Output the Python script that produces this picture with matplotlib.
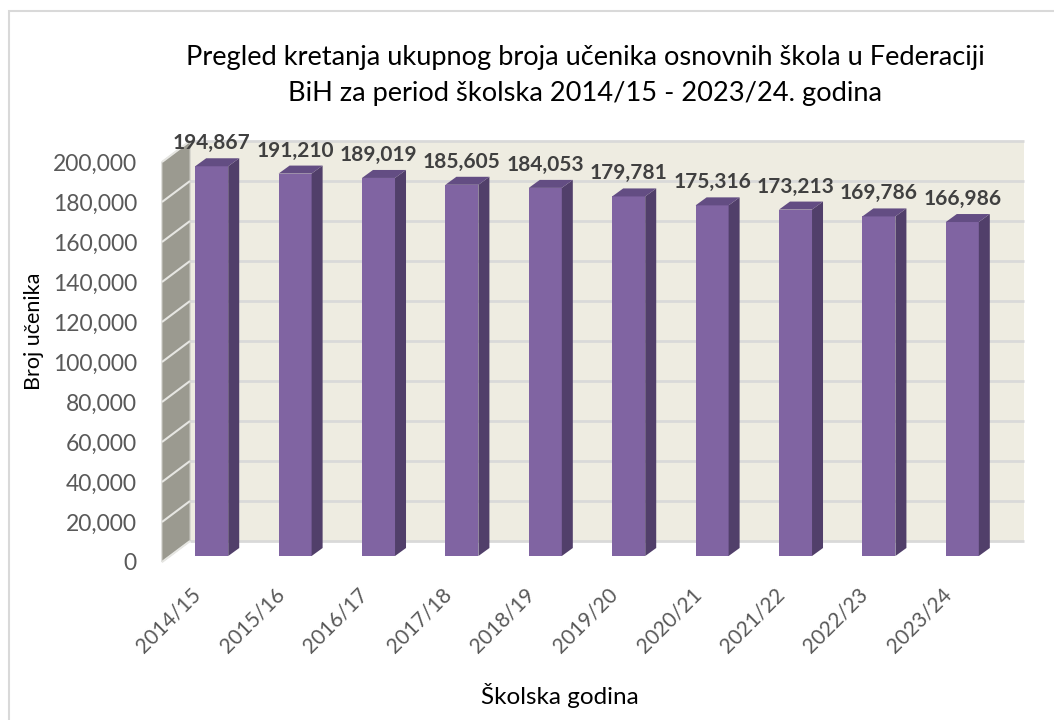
import matplotlib
matplotlib.use("Agg")
import matplotlib.pyplot as plt
from matplotlib.patches import Polygon, Rectangle
from matplotlib.transforms import ScaledTranslation

plt.rcParams['font.family'] = ['Lato', 'DejaVu Sans']

# data
godine = ['2014/15', '2015/16', '2016/17', '2017/18', '2018/19',
          '2019/20', '2020/21', '2021/22', '2022/23', '2023/24']
ucenici = [194867, 191210, 189019, 185605, 184053,
           179781, 175316, 173213, 169786, 166986]
y_ticks = list(range(0, 200001, 20000))

naslov = ('Pregled kretanja ukupnog broja učenika osnovnih škola u Federaciji\n'
          'BiH za period školska 2014/15 - 2023/24. godina')

DPI = 100
W, H = 1054, 720

front = '#8064A2'
side = '#513F6A'
top = '#634D83'
wall = '#EEECE1'
lwall = '#9B9A90'
grid = '#D9D9D9'
txt = '#595959'

fig = plt.figure(figsize=(W / DPI, H / DPI), dpi=DPI)
ax = fig.add_axes([162 / W, (H - 562) / H, 834 / W, 400 / H])
ax.set_xlim(-0.5, len(godine) - 0.5)
ax.set_ylim(0, 200000)
ax.patch.set_visible(False)
for s in ax.spines.values():
    s.set_visible(False)

# pixel -> data conversion
px_x = (ax.get_xlim()[1] - ax.get_xlim()[0]) / (834)
px_y = (ax.get_ylim()[1] - ax.get_ylim()[0]) / (400)


def off(dx, dy):
    return ax.transData + ScaledTranslation(dx / DPI, dy / DPI, fig.dpi_scale_trans)


# depth of back wall
wdx, wdy = 28, 21
x0, x1 = ax.get_xlim()
ymax = ax.get_ylim()[1]

ax.add_patch(Rectangle((x0, 0), x1 - x0, ymax, transform=off(wdx, wdy),
                       facecolor=wall, edgecolor='none', zorder=0, clip_on=False))
ax.hlines(y_ticks, x0, x1, transform=off(wdx, wdy), color=grid, lw=2,
          zorder=1, clip_on=False)

# left wall
ax.add_patch(Polygon([(x0, 0), (x0, ymax), (x0 + wdx * px_x, ymax + wdy * px_y),
                      (x0 + wdx * px_x, wdy * px_y)],
                     closed=True, facecolor=lwall, edgecolor='#C8C8C2', lw=0.8,
                     zorder=1, clip_on=False))
for t in y_ticks:
    ax.plot([x0, x0 + wdx * px_x], [t, t + wdy * px_y], color='#E6E6E2', lw=1.5,
            zorder=2, clip_on=False, solid_capstyle='butt')

# bars (placed a bit behind the front plane)
bdx, bdy = 8, 6
ddx, ddy = 11, 8
bw = 0.396
xs = list(range(len(godine)))
ax.bar(xs, ucenici, width=bw, color=front, transform=off(bdx, bdy), zorder=3,
       clip_on=False)
for x, v in zip(xs, ucenici):
    xr = x + bw / 2
    xl = x - bw / 2
    ax.add_patch(Polygon([(xr, 0), (xr, v), (xr + ddx * px_x, v + ddy * px_y),
                          (xr + ddx * px_x, ddy * px_y)],
                         closed=True, facecolor=side, edgecolor='none',
                         transform=off(bdx, bdy), zorder=3, clip_on=False))
    ax.add_patch(Polygon([(xl, v), (xr, v), (xr + ddx * px_x, v + ddy * px_y),
                          (xl + ddx * px_x, v + ddy * px_y)],
                         closed=True, facecolor=top, edgecolor='none',
                         transform=off(bdx, bdy), zorder=3, clip_on=False))
    ax.annotate(f'{v:,}', (x, v), xytext=(bdx * 0.72, 23 * 0.72),
                textcoords='offset points', ha='center', va='baseline',
                fontsize=15, fontweight='bold', color='#404040', zorder=5)

ax.set_yticks(y_ticks)
ax.set_yticklabels([f'{t:,}' for t in y_ticks], fontsize=16.5, color=txt)
ax.tick_params(axis='y', length=0, pad=18)
ax.set_xticks(xs)
ax.set_xticklabels(godine, rotation=45, ha='right', va='center',
                   rotation_mode='anchor', fontsize=15, color=txt)
ax.tick_params(axis='x', length=0, pad=21)
for lab in ax.get_xticklabels():
    lab.set_transform(lab.get_transform() + ScaledTranslation(-6 / DPI, 0, fig.dpi_scale_trans))

fig.text(585.5 / W, 1 - 75.5 / H, naslov, ha='center', va='center',
         fontsize=19.6, color='black', linespacing=1.52)
fig.text(34 / W, 1 - 331 / H, 'Broj učenika', rotation=90, ha='center',
         va='center', fontsize=15.5, color='black')
fig.text(560 / W, 1 - 695 / H, 'Školska godina', ha='center', va='center',
         fontsize=17.5, color='black')

# chart border (only left and top visible)
fig.add_artist(Rectangle((9 / W, -0.5), 2, 1.5 - 11 / H, transform=fig.transFigure,
                         fill=False, edgecolor=grid, lw=1.5))

fig.savefig('out.png', dpi=DPI)
